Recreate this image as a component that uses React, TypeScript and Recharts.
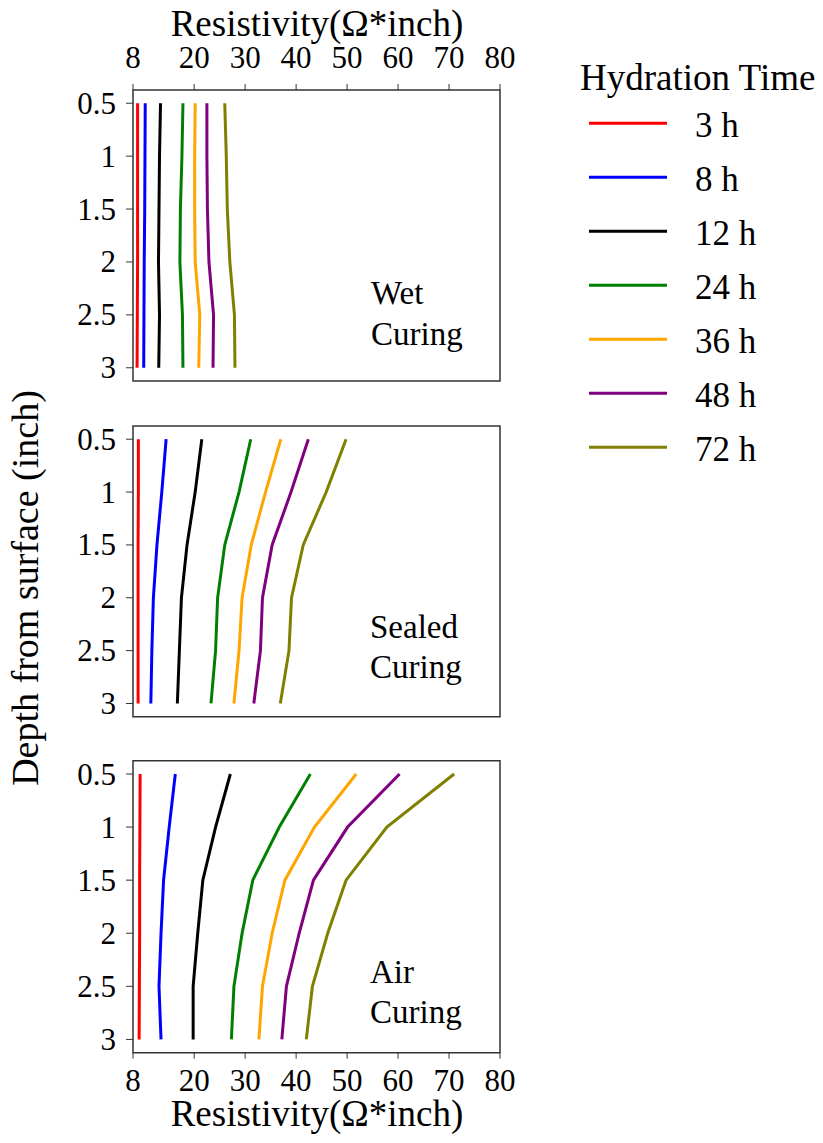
import React from 'react';
import { ScatterChart, Scatter, XAxis, YAxis, ReferenceArea } from 'recharts';

// depth (inch) of each reading, top to bottom
const depths = [0.5, 1, 1.5, 2, 2.5, 3];
const hydrationTimes = ['3 h', '8 h', '12 h', '24 h', '36 h', '48 h', '72 h'];
const lineColors = ['#ff0000', '#0000ff', '#000000', '#008000', '#ffa500', '#800080', '#808000'];
const resistivityTicks = [8, 20, 30, 40, 50, 60, 70, 80];
const depthTicks = [0.5, 1, 1.5, 2, 2.5, 3];

// resistivity (ohm*inch), one row per hydration time, one value per depth
const wetCuring = [
  [8.9, 8.9, 8.9, 8.9, 8.85, 8.8],
  [10.4, 10.35, 10.3, 10.2, 10.15, 10.1],
  [13.4, 13.2, 13.1, 13.0, 13.2, 13.05],
  [17.8, 17.6, 17.3, 17.2, 17.7, 17.8],
  [20.2, 20.1, 20.1, 20.2, 21.1, 20.9],
  [22.5, 22.5, 22.6, 22.9, 23.8, 23.7],
  [26.0, 26.3, 26.5, 27.0, 27.9, 28.0],
];

const sealedCuring = [
  [9.05, 9.05, 9.0, 9.0, 9.0, 9.0],
  [14.5, 13.65, 12.7, 12.0, 11.7, 11.5],
  [21.5, 20.2, 18.6, 17.5, 17.1, 16.7],
  [31.1, 28.8, 26.0, 24.6, 24.2, 23.3],
  [37.0, 34.0, 31.2, 29.4, 28.8, 27.8],
  [42.4, 39.0, 35.3, 33.4, 33.0, 31.7],
  [49.8, 45.9, 41.4, 39.1, 38.6, 36.9],
];

const airCuring = [
  [9.4, 9.35, 9.3, 9.3, 9.25, 9.2],
  [16.3, 15.1, 14.0, 13.5, 13.1, 13.5],
  [27.1, 24.2, 21.7, 20.7, 19.8, 19.8],
  [42.8, 36.7, 31.5, 29.4, 27.8, 27.3],
  [51.8, 43.6, 37.8, 35.3, 33.4, 32.7],
  [60.3, 50.1, 43.4, 40.6, 38.1, 37.2],
  [71.0, 57.8, 49.8, 46.2, 43.2, 42.0],
];

const serif = '"Liberation Serif", "Times New Roman", serif';
const TICK_FS = 31;

// custom tick so the serif font is applied for sure
const makeTick = (side: 'top' | 'bottom' | 'left') => (props: any) => {
  const { x, y, payload } = props;
  let baseY = y;
  if (side === 'bottom') baseY = y + TICK_FS * 0.7;
  if (side === 'left') baseY = y + TICK_FS * 0.34;
  return (
    <text
      x={x}
      y={baseY}
      textAnchor={side === 'left' ? 'end' : 'middle'}
      fontSize={TICK_FS}
      fontFamily={serif}
      fill="#000"
    >
      {payload.value}
    </text>
  );
};

type PanelProps = {
  values: number[][];
  top: number;
  height: number;
  marginTop: number;
  marginBottom: number;
  axis: 'top' | 'bottom' | 'none';
};

function CuringPanel({ values, top, height, marginTop, marginBottom, axis }: PanelProps) {
  return (
    <div style={{ position: 'absolute', left: 0, top }}>
      <ScatterChart
        width={823}
        height={height}
        margin={{ top: marginTop, right: 323, bottom: marginBottom, left: 71 }}
      >
        <XAxis
          type="number"
          dataKey="r"
          domain={[8, 80]}
          ticks={resistivityTicks}
          interval={0}
          orientation={axis === 'top' ? 'top' : 'bottom'}
          hide={axis === 'none'}
          height={30}
          axisLine={false}
          stroke="#333"
          tickSize={6}
          tickMargin={axis === 'top' ? 16 : 11}
          tick={makeTick(axis === 'top' ? 'top' : 'bottom')}
          allowDataOverflow
        />
        <YAxis
          type="number"
          dataKey="depth"
          domain={[0.375, 3.125]}
          reversed
          ticks={depthTicks}
          interval={0}
          width={62}
          axisLine={false}
          stroke="#333"
          tickSize={7}
          tickMargin={10}
          tick={makeTick('left')}
          allowDataOverflow
        />
        <ReferenceArea
          x1={8}
          x2={80}
          y1={0.375}
          y2={3.125}
          fill="none"
          stroke="#333"
          strokeWidth={1.5}
          ifOverflow="visible"
        />
        {values.map((vals, i) => (
          <Scatter
            key={hydrationTimes[i]}
            name={hydrationTimes[i]}
            data={depths.map((d, j) => ({ r: vals[j], depth: d }))}
            fill={lineColors[i]}
            line={{ stroke: lineColors[i], strokeWidth: 3 }}
            lineJointType="linear"
            shape={() => <g />}
            isAnimationActive={false}
          />
        ))}
      </ScatterChart>
    </div>
  );
}

export default function App() {
  return (
    <div
      style={{
        position: 'absolute',
        left: 0,
        top: 0,
        width: 823,
        height: 1143,
        background: '#fff',
        fontFamily: serif,
      }}
    >
      <CuringPanel values={wetCuring} top={0} height={400} marginTop={60} marginBottom={19} axis="top" />
      <CuringPanel values={sealedCuring} top={400} height={330} marginTop={26} marginBottom={13.3} axis="none" />
      <CuringPanel values={airCuring} top={740} height={403} marginTop={20.7} marginBottom={60.3} axis="bottom" />

      <svg
        width={823}
        height={1143}
        style={{ position: 'absolute', left: 0, top: 0, pointerEvents: 'none' }}
        fontFamily={serif}
      >
        <text x={317} y={35.5} textAnchor="middle" fontSize={37}>Resistivity(Ω*inch)</text>
        <text x={317} y={1126} textAnchor="middle" fontSize={37}>Resistivity(Ω*inch)</text>
        <text transform="translate(38,588) rotate(-90)" textAnchor="middle" fontSize={38}>
          Depth from surface (inch)
        </text>

        <text x={371} y={304} fontSize={33}>Wet</text>
        <text x={371} y={345} fontSize={33}>Curing</text>
        <text x={370} y={638} fontSize={33}>Sealed</text>
        <text x={370} y={678} fontSize={33}>Curing</text>
        <text x={370} y={983} fontSize={33}>Air</text>
        <text x={370} y={1023} fontSize={33}>Curing</text>

        <text x={580} y={90} fontSize={37}>Hydration Time</text>
        {hydrationTimes.map((h, i) => {
          const y = 123.3 + i * 54;
          return (
            <g key={h}>
              <line x1={589} x2={667} y1={y} y2={y} stroke={lineColors[i]} strokeWidth={3} />
              <text x={695} y={y + 14} fontSize={35}>{h}</text>
            </g>
          );
        })}
      </svg>
    </div>
  );
}
